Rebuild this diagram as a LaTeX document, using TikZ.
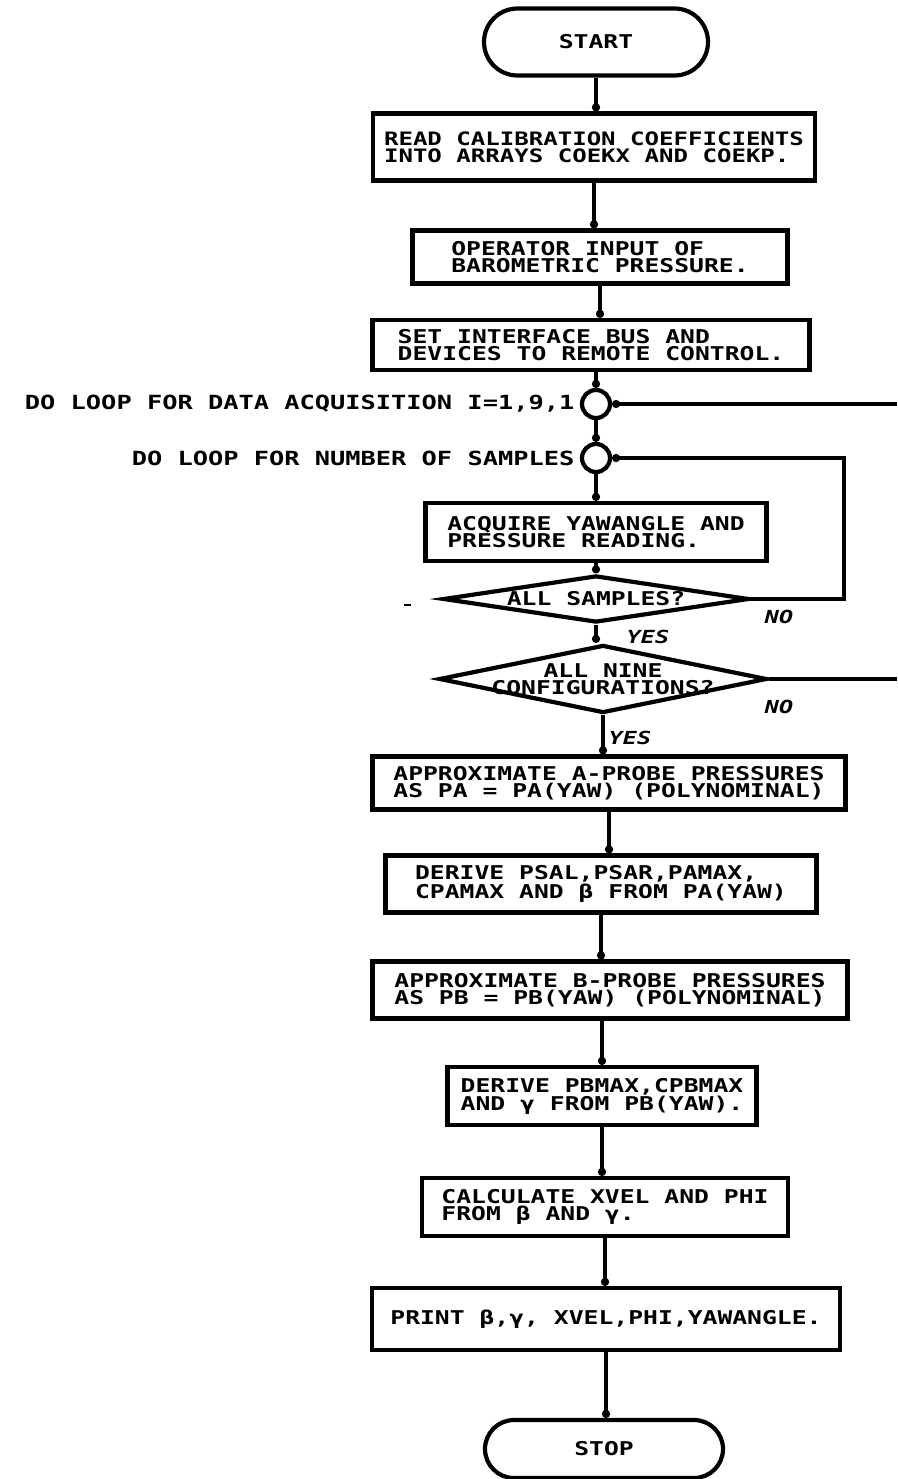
\documentclass[tikz,border=0pt]{standalone}
\usepackage{fontspec}
\newfontfamily\plotfont[FakeStretch=1.30]{DejaVu Sans Mono}
\usetikzlibrary{shapes.geometric,shapes.misc,arrows.meta}
\begin{document}
\begin{tikzpicture}[x=1pt,y=-1pt,
  every node/.style={font=\plotfont\bfseries\fontsize{19}{17}\selectfont},
  box/.style={draw, line width=4.2pt, rectangle, align=left, inner sep=0pt},
  term/.style={draw, line width=4.2pt, rounded rectangle, inner sep=0pt},
  dec/.style={draw, line width=4.2pt, diamond, inner sep=0pt},
  loopc/.style={draw, line width=4.2pt, circle, minimum size=28pt, inner sep=0pt},
  conn/.style={line width=4pt, -{Circle[length=8pt]}},
  plain/.style={line width=4pt},
  lbl/.style={font=\plotfont\bfseries\itshape\fontsize{18}{18}\selectfont},
  looplbl/.style={font=\plotfont\bfseries\fontsize{19.5}{19}\selectfont}
]
\useasboundingbox (0,0) rectangle (897,1479);
\fill[white] (0,0) rectangle (897,1479);

\node[term, minimum width=224pt, minimum height=67pt] (start) at (596,42) {START};
\node[box, minimum width=442pt, minimum height=67pt, font=\plotfont\bfseries\fontsize{18.5}{17}\selectfont] (b1) at (594,147) {READ CALIBRATION COEFFICIENTS\\INTO ARRAYS COEKX AND COEKP.};
\node[box, minimum width=375pt, minimum height=53pt] (b2) at (600,257) {OPERATOR INPUT OF\\BAROMETRIC PRESSURE.};
\node[box, minimum width=437pt, minimum height=50pt] (b3) at (591,345) {SET INTERFACE BUS AND\\DEVICES TO REMOTE CONTROL.};
\node[loopc] (c1) at (596,404) {};
\node[loopc] (c2) at (596,458) {};
\node[looplbl, anchor=east] (l1) at ([xshift=-2pt]c1.west) {DO LOOP FOR DATA ACQUISITION I=1,9,1};
\node[looplbl, anchor=east] (l2) at ([xshift=-2pt]c2.west) {DO LOOP FOR NUMBER OF SAMPLES};
\node[box, minimum width=341pt, minimum height=58pt] (b4) at (596,532) {ACQUIRE YAWANGLE AND\\PRESSURE READING.};
\node[dec, minimum width=306pt, minimum height=47pt] (d1) at (596,599) {};
\node (d1t) at (d1.center) {ALL SAMPLES?};
\node[dec, minimum width=328pt, minimum height=68pt] (d2) at (603,679) {};
\node[align=center] (d2t) at (d2.center) {ALL NINE\\CONFIGURATIONS?};
\node[box, minimum width=473pt, minimum height=53pt] (b5) at (609,783) {APPROXIMATE A-PROBE PRESSURES\\AS PA = PA(YAW) (POLYNOMINAL)};
\node[box, minimum width=431pt, minimum height=57pt] (b6) at (601,884) {DERIVE PSAL,PSAR,PAMAX,\\CPAMAX AND β FROM PA(YAW)};
\node[box, minimum width=475pt, minimum height=57pt] (b7) at (610,990) {APPROXIMATE B-PROBE PRESSURES\\AS PB = PB(YAW) (POLYNOMINAL)};
\node[box, minimum width=309pt, minimum height=58pt] (b8) at (602,1096) {DERIVE PBMAX,CPBMAX\\AND γ FROM PB(YAW).};
\node[box, minimum width=366pt, minimum height=58pt] (b9) at (605,1207) {CALCULATE XVEL AND PHI\\FROM β AND γ.};
\node[box, minimum width=468pt, minimum height=62pt] (b10) at (606,1319) {PRINT β,γ, XVEL,PHI,YAWANGLE.};
\node[term, minimum width=238pt, minimum height=58pt] (stop) at (604,1449) {STOP};

\coordinate (rt1) at (897,0);
\coordinate (rt2) at (844,0);

\draw[conn] (start.south) -- (start.south |- b1.north);
\draw[conn] (b1.south) -- (b1.south |- b2.north);
\draw[conn] (b2.south) -- (b2.south |- b3.north);
\draw[conn] (c1.north |- b3.south) -- (c1.north);
\draw[conn] (c1.south) -- (c2.north);
\draw[conn] (c2.south) -- (c2.south |- b4.north);
\draw[conn] (b4.south) -- (d1.north);
\draw[conn] (d1.south) -- (d1.south |- d2.north);
\draw[conn] (d2.south) -- (d2.south |- b5.north);
\draw[conn] (b5.south) -- (b5.south |- b6.north);
\draw[conn] (b6.south) -- (b6.south |- b7.north);
\draw[conn] (b8.north |- b7.south) -- (b8.north);
\draw[conn] (b8.south) -- (b8.south |- b9.north);
\draw[conn] (b9.south) -- (b9.south |- b10.north);
\draw[conn] (b10.south) -- (b10.south |- stop.north);

\draw[conn] (d1.east) -- (d1.east -| rt2) |- (c2.east);
\draw[plain, {Circle[length=8pt]}-] (c1.east) -- (c1.east -| rt1);
\draw[plain] (d2.east) -- (d2.east -| rt1);

\node[lbl] (yes1) at (648,637) {YES};
\node[lbl] (no1) at (779,617) {NO};
\node[lbl] (yes2) at (630,738) {YES};
\node[lbl] (no2) at (779,707) {NO};

\draw[line width=2pt] (404,605) -- (411,605);
\end{tikzpicture}
\end{document}
